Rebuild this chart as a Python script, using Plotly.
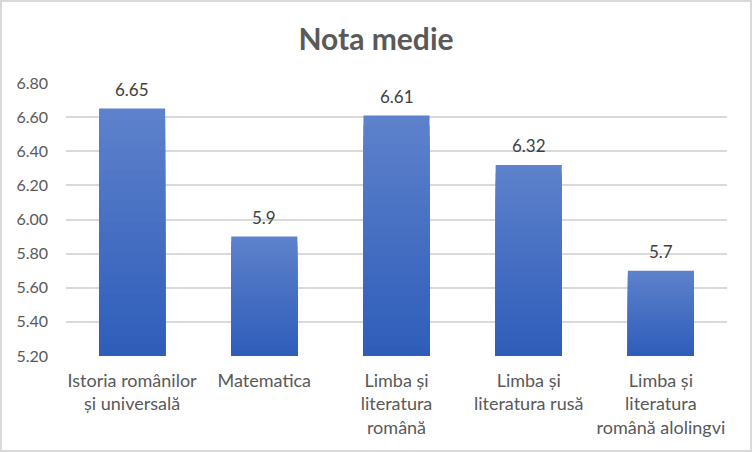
import plotly.graph_objects as go

categories = ["Istoria românilor<br>și universală", "Matematica", "Limba și<br>literatura<br>română",
              "Limba și<br>literatura rusă", "Limba și<br>literatura<br>română alolingvi"]
values = [6.65, 5.9, 6.61, 6.32, 5.7]
labels = ["6.65", "5.9", "6.61", "6.32", "5.7"]
y_min, y_max, y_step = 5.2, 6.8, 0.2

W, H = 752, 452
ml, mr, mt, mb = 66, 25, 83, 96

top_rgb = (93, 129, 203)
bot_rgb = (45, 92, 185)
N = 24

fig = go.Figure()
for k in range(N):
    f = k / N
    col = tuple(round(top_rgb[i] + (bot_rgb[i] - top_rgb[i]) * f) for i in range(3))
    ys = [y_min + (v - y_min) * (1 - f) for v in values]
    fig.add_trace(go.Bar(
        x=categories, y=[y - y_min for y in ys], base=y_min,
        marker=dict(color="rgb(%d,%d,%d)" % col, line=dict(width=0)),
        hoverinfo="skip", showlegend=False,
    ))

for c, v, t in zip(categories, values, labels):
    fig.add_annotation(x=c, y=v, text=t, showarrow=False, yanchor="middle", yshift=19,
                       font=dict(family="Lato, Open Sans, sans-serif", size=17, color="#404040"))

pw = W - ml - mr
ph = H - mt - mb
fig.add_shape(type="rect", xref="paper", yref="paper",
              x0=-(ml - 1) / pw, x1=1 + (mr - 1) / pw,
              y0=-(mb - 1) / ph, y1=1 + (mt - 1) / ph,
              line=dict(color="#d9d9d9", width=2), layer="below")

fig.update_layout(
    width=W, height=H,
    margin=dict(l=ml, r=mr, t=mt, b=mb),
    barmode="overlay", bargap=0.5,
    paper_bgcolor="white", plot_bgcolor="white",
    title=dict(text="<b>Nota medie</b>", x=0.5, xanchor="center", y=1 - 39 / H, yanchor="middle",
               font=dict(family="Lato, Open Sans, sans-serif", size=30, color="#595959")),
    font=dict(family="Lato, Open Sans, sans-serif", color="#595959"),
    xaxis=dict(showgrid=False, showline=False, ticks="", ticklabelstandoff=12,
               tickfont=dict(size=18, color="#595959")),
    yaxis=dict(range=[y_min, y_max], tickmode="linear", tick0=y_min, dtick=y_step,
               tickformat=".2f", showgrid=True, gridcolor="#d9d9d9", gridwidth=1.5,
               zeroline=False, showline=False, ticks="", ticklabelstandoff=17,
               tickfont=dict(size=16, color="#595959")),
)
fig.write_html("out.html")
